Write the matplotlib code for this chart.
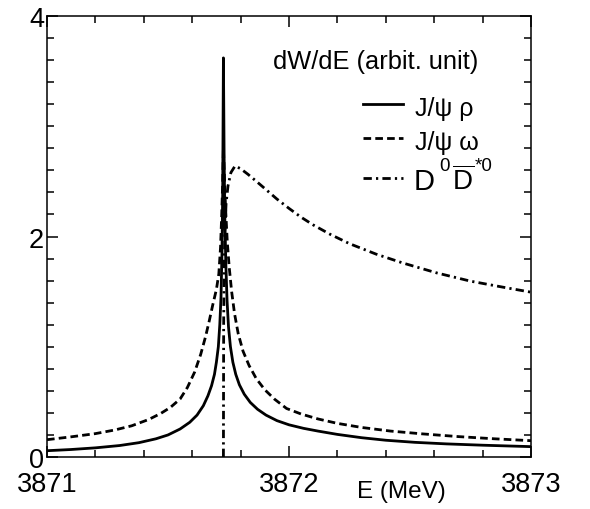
import matplotlib
matplotlib.use("Agg")
import matplotlib.pyplot as plt
from matplotlib.ticker import MultipleLocator
from matplotlib.lines import Line2D

plt.rcParams['font.family'] = ['Liberation Sans', 'DejaVu Sans']
plt.rcParams['mathtext.fontset'] = 'custom'
plt.rcParams['mathtext.rm'] = 'Liberation Sans'
plt.rcParams['mathtext.it'] = 'Liberation Sans:italic'
plt.rcParams['mathtext.bf'] = 'Liberation Sans:bold'
plt.rcParams['lines.scale_dashes'] = False

# ---- data ----
E_rho = [3871.000, 3871.100, 3871.200, 3871.300, 3871.380, 3871.450, 3871.500,
         3871.550, 3871.590, 3871.620, 3871.646, 3871.665, 3871.680, 3871.692,
         3871.700, 3871.708, 3871.714, 3871.719, 3871.723, 3871.726, 3871.729,
         3871.732, 3871.735, 3871.739, 3871.744, 3871.750, 3871.758, 3871.768,
         3871.780, 3871.795, 3871.815, 3871.840, 3871.870, 3871.905, 3871.950,
         3872.000, 3872.060, 3872.120, 3872.200, 3872.300, 3872.400, 3872.520,
         3872.650, 3872.800, 3873.000]
W_rho = [0.057, 0.068, 0.083, 0.104, 0.130, 0.165, 0.200,
         0.254, 0.315, 0.380, 0.465, 0.555, 0.647, 0.750,
         0.860, 1.000, 1.200, 1.450, 1.850, 2.400, 3.620,
         2.700, 2.150, 1.750, 1.420, 1.180, 1.000, 0.860,
         0.750, 0.655, 0.570, 0.495, 0.433, 0.380, 0.330,
         0.292, 0.260, 0.235, 0.205, 0.175, 0.152, 0.133,
         0.119, 0.107, 0.094]

E_omega = [3871.000, 3871.100, 3871.200, 3871.280, 3871.350, 3871.420, 3871.470,
           3871.510, 3871.550, 3871.580, 3871.610, 3871.635, 3871.655, 3871.670,
           3871.685, 3871.700, 3871.710, 3871.717, 3871.722, 3871.726, 3871.729,
           3871.733, 3871.738, 3871.745, 3871.753, 3871.763, 3871.775, 3871.790,
           3871.810, 3871.835, 3871.865, 3871.900, 3871.940, 3871.990, 3872.050,
           3872.120, 3872.200, 3872.300, 3872.420, 3872.550, 3872.700, 3872.850,
           3873.000]
W_omega = [0.157, 0.183, 0.212, 0.245, 0.283, 0.340, 0.395,
           0.450, 0.526, 0.630, 0.770, 0.930, 1.090, 1.230,
           1.380, 1.520, 1.660, 1.900, 2.200, 2.500, 2.800,
           2.550, 2.250, 1.950, 1.720, 1.500, 1.300, 1.120,
           0.960, 0.830, 0.710, 0.610, 0.525, 0.440, 0.390,
           0.345, 0.305, 0.268, 0.235, 0.210, 0.185, 0.165,
           0.148]

E_DD = [3871.729, 3871.730, 3871.732, 3871.735, 3871.740, 3871.748, 3871.760,
        3871.777, 3871.800, 3871.830, 3871.860, 3871.900, 3871.950, 3872.000,
        3872.050, 3872.100, 3872.170, 3872.250, 3872.360, 3872.470, 3872.610,
        3872.750, 3872.885, 3873.000]
W_DD = [0.0, 1.20, 1.70, 2.05, 2.30, 2.46, 2.58,
        2.64, 2.615, 2.565, 2.51, 2.435, 2.34, 2.255,
        2.175, 2.105, 2.02, 1.935, 1.84, 1.76, 1.67,
        1.595, 1.54, 1.495]

labels = ['J/ψ ρ', 'J/ψ ω']
dd_parts = ['D', '0', r'$\mathregular{\overline{D}}$', '*0']
legend_title = 'dW/dE (arbit. unit)'
x_label = 'E (MeV)'
x_ticks = [3871, 3872, 3873]
y_ticks = [0, 2, 4]

# ---- figure ----
fig = plt.figure(figsize=(5.9, 5.1), dpi=100)
ax = fig.add_axes([47/590, 52/510, 484/590, 441/510])

lw = 2.0
styles = ['-', (0, (5.5, 3.0)), (0, (6.0, 3.0, 1.6, 3.0))]
ax.plot(E_rho, W_rho, color='black', lw=lw, linestyle=styles[0])
ax.plot(E_omega, W_omega, color='black', lw=lw, linestyle=styles[1])
ax.plot(E_DD, W_DD, color='black', lw=lw, linestyle=styles[2])

ax.set_xlim(3871, 3873)
ax.set_ylim(0, 4)
ax.set_xticks(x_ticks)
ax.set_xticklabels([str(t) for t in x_ticks])
ax.set_yticks(y_ticks)
ax.set_yticklabels([str(t) for t in y_ticks])
ax.xaxis.set_minor_locator(MultipleLocator(0.2))
ax.yaxis.set_minor_locator(MultipleLocator(0.2))
ax.tick_params(which='both', direction='in', top=True, right=True, width=1.1, labelsize=19.5)
ax.tick_params(which='major', length=8)
ax.tick_params(which='minor', length=5)
ax.tick_params(axis='x', which='major', pad=10)
ax.tick_params(axis='y', which='major', pad=2)
for s in ax.spines.values():
    s.set_linewidth(1.1)

ax.set_xlabel(x_label, fontsize=17.5)
ax.xaxis.set_label_coords(0.733, -0.052)

# ---- legend (manual layout) ----
W, H = 590.0, 510.0
fig.text(478/W, 1 - 62/H, legend_title, ha='right', va='center', fontsize=18.3)
key_y = [105, 139, 179]
for st, ky in zip(styles, key_y):
    fig.add_artist(Line2D([363/W, 403/W], [1 - ky/H, 1 - ky/H], transform=fig.transFigure,
                          color='black', lw=lw, linestyle=st))
fig.text(415/W, 1 - 116/H, labels[0], ha='left', va='baseline', fontsize=18)
fig.text(415/W, 1 - 150/H, labels[1], ha='left', va='baseline', fontsize=18)
# D0 Dbar*0 composed with raised superscripts
fig.text(414/W, 1 - 190/H, dd_parts[0], ha='left', va='baseline', fontsize=21)
fig.text(439/W, 1 - 171/H, dd_parts[1], ha='left', va='baseline', fontsize=13.5)
fig.text(452/W, 1 - 190/H, dd_parts[2], ha='left', va='baseline', fontsize=20)
fig.text(475/W, 1 - 171/H, dd_parts[3], ha='left', va='baseline', fontsize=13.5)

fig.savefig('out.png', dpi=100)
